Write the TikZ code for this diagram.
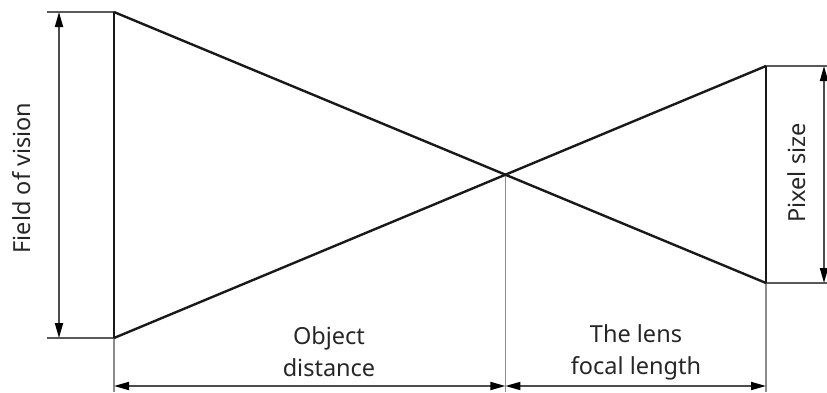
\documentclass[tikz,border=0pt]{standalone}
\usepackage{fontspec}
\setmainfont{Noto Sans}
\usetikzlibrary{arrows.meta}
\begin{document}
\begin{tikzpicture}[x=1pt,y=-1pt,
  thickline/.style={line width=2.4pt,black!90},
  thinline/.style={line width=1.3pt,black!45},
  edgeline/.style={line width=1.8pt,black!65},
  dimarrow/.style={line width=1.8pt,black!70,{Triangle[length=15pt,width=8pt,black]}-{Triangle[length=15pt,width=8pt,black]}},
  lbl/.style={font=\fontsize{23.5}{32}\selectfont,text=black!85,align=center,inner sep=0pt}]
\useasboundingbox (0,0) rectangle (827,392);
% key points
\coordinate (TL) at (114,12);
\coordinate (BL) at (114,338);
\coordinate (TR) at (766,66);
\coordinate (BR) at (766,283);
\coordinate (X) at (505.4,174.7);
\coordinate (TLo) at (47,12);
\coordinate (BLo) at (47,338);
\coordinate (TRo) at (827,66);
\coordinate (BRo) at (827,283);
\coordinate (Lb) at (114,392);
\coordinate (Xb) at (505.4,392);
\coordinate (Rb) at (766,392);
\coordinate (A1) at (59,12);
\coordinate (A2) at (59,338);
\coordinate (P1) at (824,66);
\coordinate (P2) at (824,283);
\coordinate (D1) at (114,386);
\coordinate (D2) at (505.4,386);
\coordinate (D3) at (766,386);
% extension lines
\draw[thinline] (X) -- (Xb);
\draw[thinline] (BR) -- (Rb);
\draw[thinline] (BL) -- (Lb);
\draw[edgeline] (TLo) -- (TL);
\draw[edgeline] (BLo) -- (BL);
\draw[edgeline] (TR) -- (TRo);
\draw[edgeline] (BR) -- (BRo);
% main geometry
\draw[thickline] (TL) -- (BL);
\draw[thickline] (TR) -- (BR);
\draw[thickline] (TL) -- (BR);
\draw[thickline] (BL) -- (TR);
% dimension arrows
\draw[dimarrow] (A1) -- (A2);
\draw[dimarrow] (P1) -- (P2);
\draw[dimarrow] (D1) -- (D2);
\draw[dimarrow] (D2) -- (D3);
% labels
\node[lbl,rotate=90] (fov) at (22,178) {Field of vision};
\node[lbl,rotate=90] (pix) at (797,173) {Pixel size};
\node[lbl] (od) at (329,352) {Object\\distance};
\node[lbl] (fl) at (636,352) {The lens\\focal length};
\end{tikzpicture}
\end{document}
